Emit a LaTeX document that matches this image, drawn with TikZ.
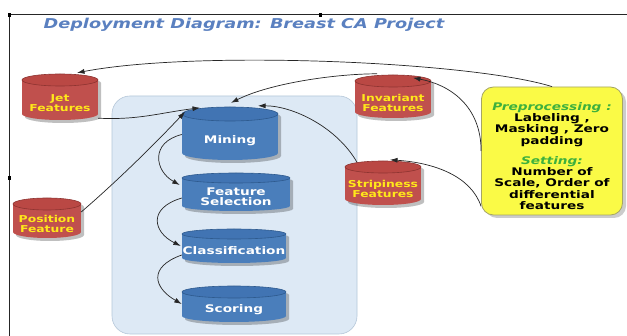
\documentclass[tikz,border=0pt]{standalone}
\usepackage{fontspec}
\setmainfont{DejaVu Sans}[FakeStretch=1.3]
\usetikzlibrary{arrows.meta}

\definecolor{cbbody}{HTML}{4A7EBB}
\definecolor{cbtop}{HTML}{4174B3}
\definecolor{cbrim}{HTML}{2E5A8E}
\definecolor{crbody}{HTML}{C0504D}
\definecolor{crtop}{HTML}{BA4844}
\definecolor{crrim}{HTML}{8E3431}
\definecolor{crlabel}{HTML}{FFE81A}
\definecolor{panelfill}{HTML}{DDE9F5}
\definecolor{panelrim}{HTML}{B5C7D9}
\definecolor{prepfill}{HTML}{FAFA46}
\definecolor{preprim}{HTML}{A5A565}
\definecolor{hlgreen}{HTML}{3DB03D}
\definecolor{titleblue}{HTML}{5A80C0}

% #1 name, #2 centre x, #3 top y, #4 width, #5 height,
% #6 radius of the end ellipse, #7 colour prefix, #8 label text
\newcommand\cylnode[8]{%
  \begin{scope}[transparency group, opacity=0.25]
    \fill[black] (#2-#4/2+3, #3+#6+3) rectangle (#2+#4/2+3, #3+#5-#6+3);
    \fill[black] (#2+3, #3+#5-#6+3) ellipse [x radius=#4/2, y radius=#6];
    \fill[black] (#2+3, #3+#6+3) ellipse [x radius=#4/2, y radius=#6];
  \end{scope}
  \fill[#7body] (#2-#4/2, #3+#6) rectangle (#2+#4/2, #3+#5-#6);
  \fill[#7body] (#2, #3+#5-#6) ellipse [x radius=#4/2, y radius=#6];
  \filldraw[fill=#7top, draw=#7rim, line width=0.6pt]
    (#2, #3+#6) ellipse [x radius=#4/2, y radius=#6];
  \node[minimum width=#4, minimum height=#5, inner sep=0pt,
        label={[#7text, yshift=-#6pt]center:{#8}}] (#1) at (#2, #3+#5/2) {};
}

\begin{document}
\begin{tikzpicture}[x=1pt, y=-1pt,
  conn/.style={draw=black!85, line width=0.7pt, -{Latex[length=7.5pt,width=5pt]}},
  cbtext/.style={text=white, font=\fontsize{10.5}{10.5}\selectfont\bfseries, align=center},
  crtext/.style={text=crlabel, font=\fontsize{9.5}{10}\selectfont\bfseries, align=center},
  preptext/.style={text=black, font=\fontsize{10.5}{11.4}\selectfont\bfseries, align=center},
  hl/.style={text=hlgreen, font=\bfseries\itshape}]

\useasboundingbox (0,0) rectangle (627,336);
\fill[white] (0,0) rectangle (627,336);

% frame lines and handles
\draw[line width=0.8pt, black!85] (8,14.5) -- (627,14.5);
\draw[line width=0.8pt, black!85] (9.5,14) -- (9.5,336);
\fill[black] (8,13) rectangle (11,17);
\fill[black] (319,13) rectangle (322,17);
\fill[black] (8,176) rectangle (11,180);

% title
\node[font=\fontsize{13.6}{16}\selectfont\bfseries\itshape, text=titleblue] (title) at (244,25)
  {Deployment Diagram: Breast CA Project};

% processing panel
\node[draw=panelrim, fill=panelfill, line width=0.6pt, rounded corners=18pt,
      minimum width=245, minimum height=238, inner sep=0pt] (panel) at (234.5,215) {};

% processing steps
\cylnode{mining}{230}{107}{96}{53}{7}{cb}{Mining}
\cylnode{fsel}{236}{173}{108}{38}{5}{cb}{Feature\\Selection}
\cylnode{classif}{234}{229}{104}{34}{5}{cb}{Classification}
\cylnode{scoring}{234}{286}{104}{36}{6}{cb}{Scoring}

% feature stores
\cylnode{jet}{60}{74}{76}{46}{6}{cr}{Jet\\Features}
\cylnode{inv}{393}{75}{76}{43}{6}{cr}{Invariant\\Features}
\cylnode{strip}{383}{161}{76}{44}{6}{cr}{Stripiness\\Features}
\cylnode{pos}{47}{198}{68}{40}{6}{cr}{Position\\Feature}

% preprocessing settings
\fill[black, opacity=0.2, rounded corners=12pt] (485,90) rectangle (626,218);
\node[draw=preprim, fill=prepfill, line width=0.8pt, rounded corners=12pt,
      minimum width=141, minimum height=128, inner sep=0pt,
      label={[preptext, yshift=-5pt]center:{%
        \textcolor{hlgreen}{\itshape Preprocessing :}\\
        Labeling ,\\ Masking , Zero\\ padding\\[8.5pt]
        \textcolor{hlgreen}{\itshape Setting:}\\
        Number of\\ Scale, Order of\\ differential\\ features}}] (prep) at (552,151) {};

% data flow
\draw[conn] (prep.north) .. controls +(-80,-25) and +(120,-23) .. ([xshift=17pt,yshift=1pt]jet.north);
\draw[conn] (prep.west) .. controls +(0,-45) and +(37,7) .. ([xshift=20pt,yshift=-3pt]inv.north);
\draw[conn] ([xshift=-16pt,yshift=1pt]inv.north) .. controls +(-40,0) and +(40,-20) .. ([xshift=1pt,yshift=4pt]mining.north);
\draw[conn] ([yshift=9pt]prep.south west) .. controls +(-10,-30) and +(45,3) .. ([xshift=7pt,yshift=1pt]strip.north);
\draw[conn] ([xshift=-26pt,yshift=-1.5pt]strip.north) .. controls +(-20,-35) and +(35,0) .. ([xshift=28pt,yshift=1pt]mining.north);
\draw[conn] ([yshift=2pt]jet.south east) .. controls +(40,2) and +(-40,5) .. ([xshift=-30pt,yshift=-1pt]mining.north);
\draw[conn] ([yshift=6pt]pos.east) .. controls +(35,-30) and +(-30,32) .. ([xshift=-45pt,yshift=-5pt]mining.north);

% processing chain
\draw[conn] ([yshift=-1pt]mining.west) .. controls +(-32,8) and +(-25,-14) .. ([xshift=-2pt,yshift=7pt]fsel.west);
\draw[conn] ([yshift=-6pt]fsel.west) .. controls +(-34,10) and +(-28,-14) .. ([xshift=-1pt]classif.west);
\draw[conn] ([yshift=-9pt]classif.west) .. controls +(-34,12) and +(-28,-16) .. (scoring.west);

\end{tikzpicture}
\end{document}
